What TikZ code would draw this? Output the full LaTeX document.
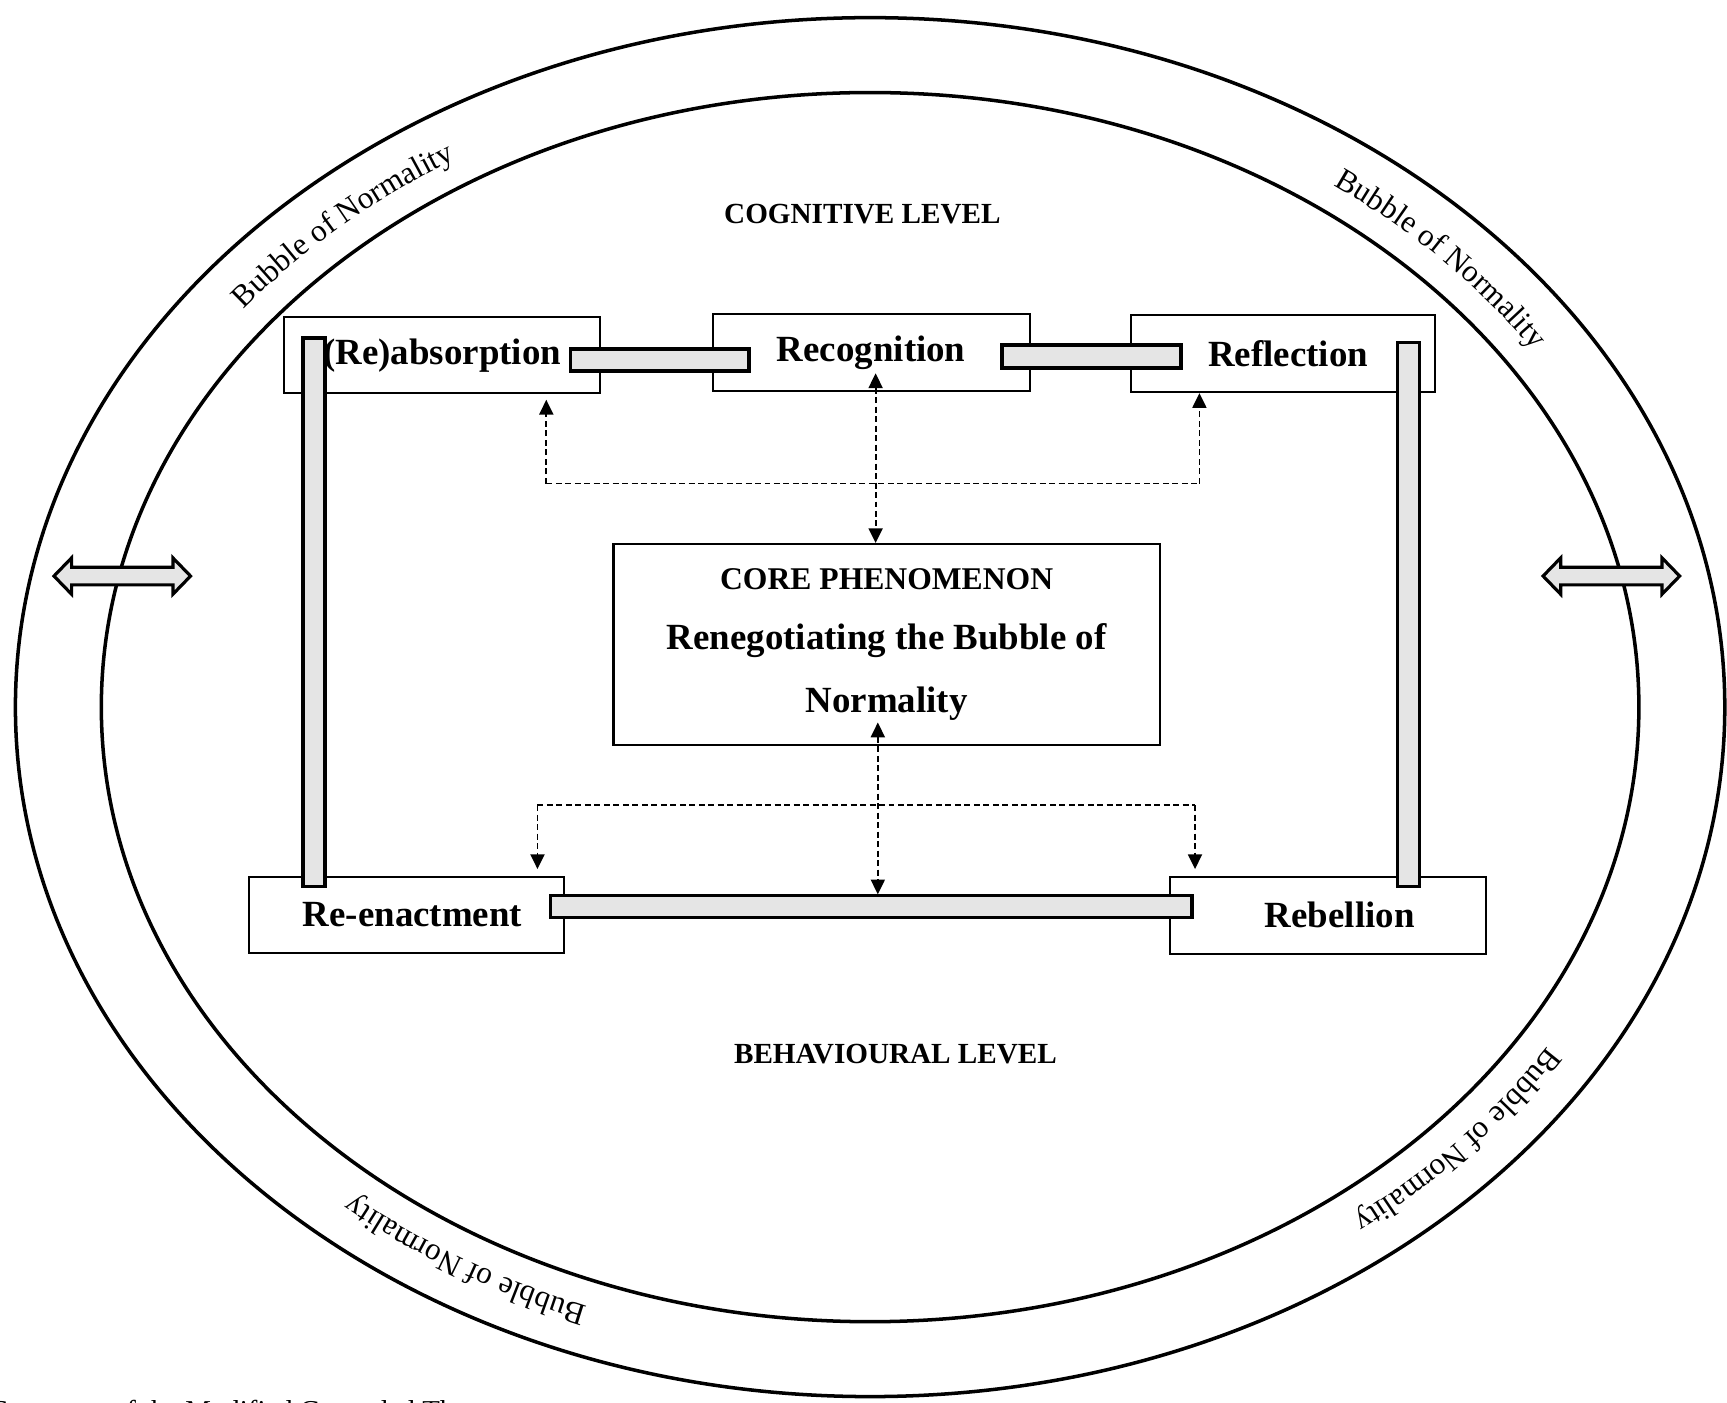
\documentclass[tikz,border=0pt]{standalone}
\usepackage{fontspec}
\setmainfont{Liberation Serif}
\usetikzlibrary{arrows.meta,calc,decorations.text}

\tikzset{
  stage/.style={draw, line width=0.6pt, inner sep=0pt, font=\fontsize{10.5}{13}\selectfont\bfseries},
  bar/.style={draw, line width=1pt, fill=black!10},
  level/.style={font=\fontsize{8.3}{10}\selectfont\bfseries},
  link/.style={line width=0.5pt, dash pattern=on 1.7pt off 1pt},
  linkarrow/.style={link, -{Triangle[length=4.2pt,width=4pt]}},
  linkboth/.style={link, {Triangle[length=4.2pt,width=4pt]}-{Triangle[length=4.2pt,width=4pt]}}
}

\newcommand{\bubbletext}[1]{%
  \path[decorate, decoration={text along path, text align=center,
      text={|\fontsize{8.9}{11}\selectfont|Bubble of Normality}}]
    ($(790,642)+({725*cos(#1-30)},{582*sin(#1-30)})$)
    arc[start angle=#1-30, end angle=#1+30, x radius=725, y radius=582];}
\newcommand{\twoway}[1]{%
  \draw[bar, line width=0.9pt] (#1) ++(-62,0) -- ++(16,-16.5) -- ++(0,8.5) -- ++(92,0) -- ++(0,-8.5)
    -- ++(16,16.5) -- ++(-16,16.5) -- ++(0,-8.5) -- ++(-92,0) -- ++(0,8.5) -- cycle;}

\begin{document}
\begin{tikzpicture}[x=0.011014cm, y=-0.011014cm]
\useasboundingbox (0,0) rectangle (1568,1273);
\clip (0,0) rectangle (1568,1273);

\draw [line width=1pt] (790,642) ellipse [x radius=776, y radius=626];
\draw [line width=1pt] (790,642) ellipse [x radius=698, y radius=558];
\bubbletext{227.2}
\bubbletext{317.2}
\bubbletext{41}
\bubbletext{121.7}

\twoway{111,523}
\twoway{1463,523}

\node[level] (cog) at (783,194) {COGNITIVE LEVEL};
\node[level] (beh) at (813,957) {BEHAVIOURAL LEVEL};

\node[stage, minimum width=3.161cm, minimum height=0.760cm] (reab) at (401.5,322.5) {(Re)absorption};
\node[stage, minimum width=3.172cm, minimum height=0.771cm] (recog) at (791,320) {Recognition};
\node[stage, minimum width=3.040cm, minimum height=0.771cm] (refl) at (1165,321) {\hspace*{0.1cm}Reflection};
\node[stage, minimum width=3.150cm, minimum height=0.760cm] (reen) at (369,830.5) {\hspace*{0.12cm}Re-enactment};
\node[stage, minimum width=3.161cm, minimum height=0.771cm] (rebel) at (1205.5,831) {\hspace*{0.24cm}Rebellion};
\node[stage, minimum width=5.463cm, minimum height=2.005cm, align=center] (core) at (805,585)
  {{\fontsize{9}{13}\selectfont CORE PHENOMENON}\\[4.2pt] Renegotiating the Bubble of\\[4.9pt] Normality};

\draw[bar] ($(reab.east)+(-28,-5.5)$) rectangle ($(recog.west)+(34,17)$);
\draw[bar] ($(recog.east)+(-26,-7)$) rectangle ($(refl.west)+(46,13)$);
\draw[bar] ($(reab.north west)+(18,20)$) rectangle ($(reen.north west)+(70,10)$);
\draw[bar] ($(refl.north east)+(-35,26)$) rectangle ($(rebel.north east)+(-61,10)$);
\draw[bar] ($(reen.east)+(-13,-17.5)$) rectangle ($(rebel.west)+(21,2)$);

\coordinate (cogL) at (496,439);
\coordinate (cogR) at (1089,439);
\draw[link] (cogL) -- (cogR);
\draw[linkarrow] (cogL) -- ($(cogL |- reab.south)+(0,5)$);
\draw[linkarrow] (cogR) -- (cogR |- refl.south);
\draw[linkboth] ($(recog.south)+(4,-17)$) -- ($(core.north)+(-10,0)$);

\coordinate (behL) at (488,731);
\coordinate (behR) at (1085,731);
\draw[link] (behL) -- (behR);
\draw[linkarrow] (behL) -- ($(behL |- reen.north)+(0,-6)$);
\draw[linkarrow] (behR) -- ($(behR |- rebel.north)+(0,-6)$);
\draw[linkboth] ($(core.south)+(-8,-21)$) -- ($(core.south)+(-8,135)$);

\node[anchor=base west, font=\fontsize{8.2}{10}\selectfont] (caption) at (-18,1290)
  {Summary of the Modified Grounded Theory};
\end{tikzpicture}
\end{document}
